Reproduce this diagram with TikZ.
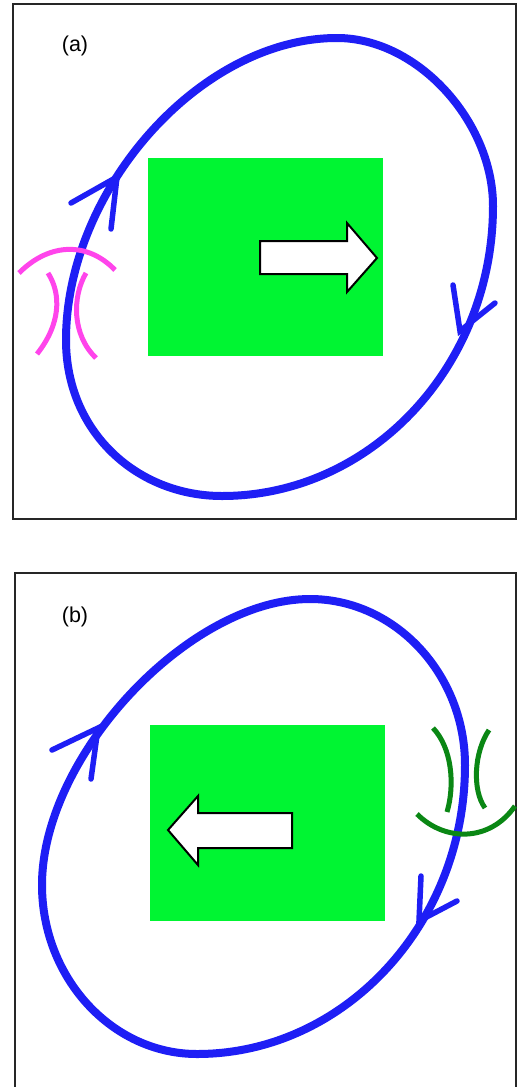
\documentclass[tikz,border=0pt]{standalone}
\usepackage{fontspec}
\setmainfont{Liberation Sans}
\begin{document}
\begin{tikzpicture}[x=1pt,y=-1pt,
  frame/.style={draw=black!85,line width=2pt},
  loop/.style={draw={rgb,255:red,30;green,30;blue,245},line width=8pt,line join=round},
  barb/.style={draw={rgb,255:red,30;green,30;blue,245},line width=5.5pt,line cap=round},
  pinkarc/.style={draw={rgb,255:red,255;green,68;blue,235},line width=5pt},
  greenarc/.style={draw={rgb,255:red,10;green,135;blue,20},line width=5pt},
  plate/.style={fill={rgb,255:red,0;green,245;blue,50}},
  whitearrow/.style={draw=black,fill=white,line width=2pt,line join=miter},
  lbl/.style={font=\fontsize{21.5}{24}\selectfont,inner sep=0pt}]
\useasboundingbox (0,0) rectangle (518,1087);
\fill[white] (0,0) rectangle (518,1087);

% ---------- panel (a) ----------
\draw[frame] (13,4) rectangle (516,519);
\node[lbl] (la) at (75,46) {(a)};
\fill[plate] (148,158) rectangle (383,356);
\draw[whitearrow] (260,241) -- (347,241) -- (347,223) -- (377,258) -- (347,292) -- (347,274) -- (260,274) -- cycle;
\coordinate (a1) at (337,38);
\coordinate (a2) at (493,206);
\coordinate (a3) at (222,496);
\coordinate (a4) at (66,340);
\draw[loop] (a1) .. controls (418,38) and (493,122) .. (a2)
  .. controls (493,366) and (371,496) .. (a3)
  .. controls (137,496) and (66,432) .. (a4)
  .. controls (66,190) and (200,38) .. cycle;
\coordinate (ta) at (117,177);
\coordinate (tb) at (460,331);
\draw[barb] (71,203) -- (ta) -- (111,229);
\draw[barb] (453,285) -- (tb) -- (495,303);
\draw[pinkarc] (19,273) .. controls (50,242) and (88,242) .. (115,270);
\draw[pinkarc] (48,273) .. controls (62,295) and (60,325) .. (37,354);
\draw[pinkarc] (86,273) .. controls (72,297) and (72,335) .. (96,358);

% ---------- panel (b) ----------
\draw[frame] (15,1095) -- (15,573) -- (516,573) -- (516,1095);
\node[lbl] (lb) at (75,617) {(b)};
\fill[plate] (150,725) rectangle (385,921);
\draw[whitearrow] (292,813) -- (198,813) -- (198,796) -- (168,830) -- (198,865) -- (198,848) -- (292,848) -- cycle;
\coordinate (b1) at (310,599);
\coordinate (b2) at (465,765);
\coordinate (b3) at (197,1054);
\coordinate (b4) at (42,885);
\draw[loop] (b1) .. controls (395,599) and (465,674) .. (b2)
  .. controls (465,924) and (344,1054) .. (b3)
  .. controls (112,1054) and (42,978) .. (b4)
  .. controls (42,756) and (189,599) .. cycle;
\coordinate (tc) at (98,728);
\coordinate (td) at (419,921);
\draw[barb] (52,750) -- (tc) -- (91,779);
\draw[barb] (421,876) -- (td) -- (457,901);
\draw[greenarc] (433,728) .. controls (452,748) and (455,785) .. (447,812);
\draw[greenarc] (489,730) .. controls (474,752) and (472,790) .. (485,808);
\draw[greenarc] (417,814) .. controls (445,842) and (490,842) .. (515,806);
\end{tikzpicture}
\end{document}
